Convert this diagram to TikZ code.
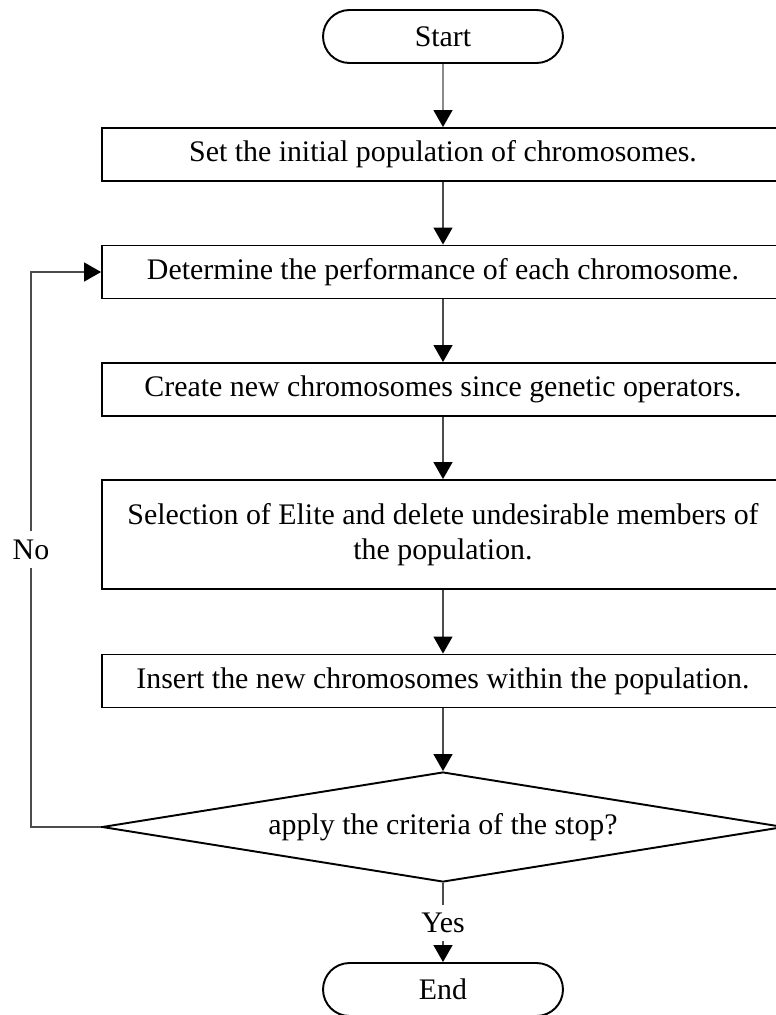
\documentclass[tikz,border=0pt]{standalone}
\usepackage{fontspec}
\setmainfont{Liberation Serif}
\usetikzlibrary{arrows.meta,shapes.geometric,shapes.misc}

\begin{document}
\begin{tikzpicture}[x=0.02cm,y=-0.02cm,
    every node/.style={font=\fontsize{17}{20}\selectfont},
    procbox/.style={draw,line width=1.1pt,minimum width=13.64cm,minimum height=1.06cm,inner sep=0pt,align=center},
    termbox/.style={draw,line width=1.1pt,rounded rectangle,minimum width=4.8cm,minimum height=1.06cm,inner sep=0pt},
    decbox/.style={draw,line width=1.1pt,diamond,aspect=6.2,minimum width=13.64cm,minimum height=2.2cm,inner sep=0pt},
    link/.style={draw=black!70,line width=0.7pt},
    flow/.style={link,-{Triangle[width=0.38cm,length=0.34cm,color=black]}},
    tag/.style={inner sep=4.5pt}]
    \useasboundingbox (0,0) rectangle (776,1015);
    \clip (0,0) rectangle (776,1015);

    \node[termbox] (start) at (443,36.5) {Start};
    \node[procbox] (setpop) at (443,154.5) {Set the initial population of chromosomes.};
    \node[procbox] (perf) at (443,272) {Determine the performance of each chromosome.};
    \node[procbox] (create) at (443,389.5) {Create new chromosomes since genetic operators.};
    \node[procbox,minimum height=2.18cm] (elite) at (443,534.5) {Selection of Elite and delete undesirable members of\\the population.};
    \node[procbox] (insert) at (443,681) {Insert the new chromosomes within the population.};
    \node[decbox] (crit) at (443,827) {apply the criteria of the stop?};
    \node[termbox] (stop) at (443,989.5) {End};
    \node[tag] (yes) at (443,923) {Yes};
    \node[tag] (no) at (31,549.5) {No};

    \draw[flow] (start) -- (setpop);
    \draw[flow] (setpop) -- (perf);
    \draw[flow] (perf) -- (create);
    \draw[flow] (create) -- (elite);
    \draw[flow] (elite) -- (insert);
    \draw[flow] (insert) -- (crit);
    \draw[link] (crit.south) -- (yes.north);
    \draw[flow] (yes.south) -- (stop.north);
    \draw[link] (crit.west) -| (no.south);
    \draw[flow] (no.north) |- (perf.west);
\end{tikzpicture}
\end{document}
